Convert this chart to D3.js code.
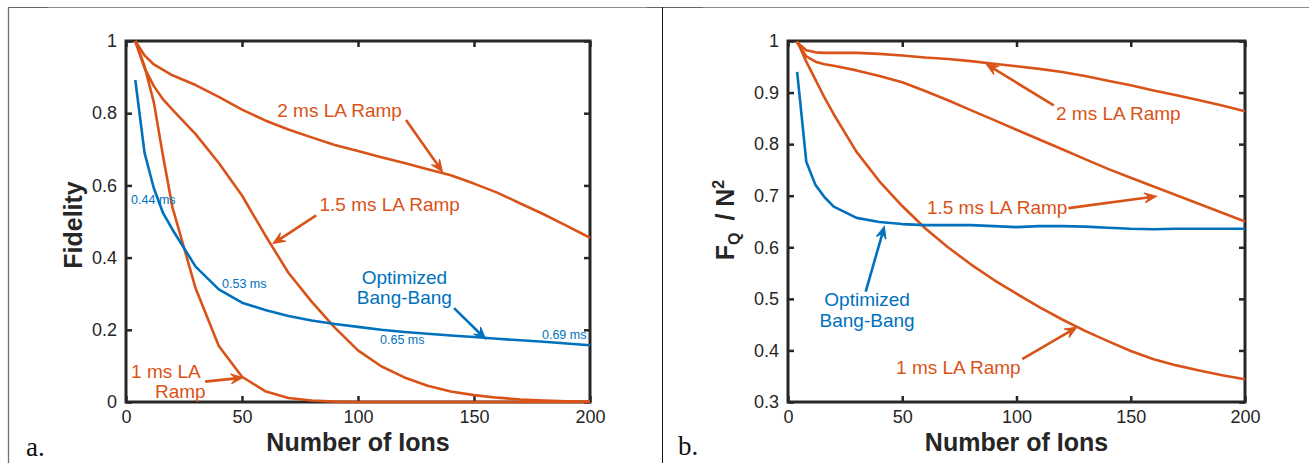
<!DOCTYPE html>
<html>
<head>
<meta charset="utf-8">
<script src="https://cdn.jsdelivr.net/npm/d3@7"></script>
<style>
  html, body { margin: 0; padding: 0; background: #fff; }
  svg { display: block; }
  text { font-family: "Liberation Sans", Arial, Helvetica, sans-serif; }
</style>
</head>
<body>
<svg id="chart" width="1309" height="463"></svg>
<script>
// ---------------- DATA ----------------
const nIons = [4, 8, 12, 16, 20, 30, 40, 50, 60, 70, 80, 90, 100, 110, 120, 130, 140, 150, 160, 170, 180, 190, 200];

// Panel a: Fidelity
const fid2ms  = [1.0, 0.96, 0.935, 0.92, 0.905, 0.878, 0.845, 0.81, 0.78, 0.755, 0.733, 0.712, 0.695, 0.678, 0.662, 0.645, 0.628, 0.605, 0.58, 0.55, 0.52, 0.488, 0.455];
const fid15ms = [1.0, 0.925, 0.875, 0.838, 0.81, 0.742, 0.662, 0.572, 0.462, 0.358, 0.278, 0.206, 0.143, 0.099, 0.068, 0.045, 0.029, 0.019, 0.012, 0.007, 0.004, 0.002, 0.001];
const fid1ms  = [1.0, 0.93, 0.83, 0.68, 0.54, 0.315, 0.155, 0.07, 0.03, 0.011, 0.004, 0.001, 0, 0, 0, 0, 0, 0, 0, 0, 0, 0, 0];
const fidBB   = [0.892, 0.69, 0.592, 0.523, 0.478, 0.375, 0.312, 0.275, 0.255, 0.238, 0.226, 0.216, 0.208, 0.2, 0.194, 0.189, 0.184, 0.18, 0.175, 0.171, 0.167, 0.162, 0.157];

// Panel b: F_Q / N^2
const fq2ms  = [0.997, 0.982, 0.978, 0.977, 0.977, 0.977, 0.975, 0.972, 0.968, 0.965, 0.961, 0.956, 0.951, 0.946, 0.94, 0.932, 0.923, 0.914, 0.904, 0.895, 0.885, 0.875, 0.864];
const fq15ms = [0.997, 0.97, 0.96, 0.955, 0.952, 0.943, 0.932, 0.92, 0.903, 0.885, 0.866, 0.847, 0.828, 0.809, 0.79, 0.771, 0.752, 0.735, 0.718, 0.701, 0.684, 0.667, 0.65];
const fq1ms  = [1.0, 0.96, 0.925, 0.89, 0.858, 0.785, 0.728, 0.68, 0.637, 0.6, 0.567, 0.537, 0.51, 0.484, 0.46, 0.438, 0.418, 0.399, 0.383, 0.371, 0.361, 0.352, 0.344];
const fqBB   = [0.94, 0.766, 0.721, 0.697, 0.679, 0.657, 0.649, 0.645, 0.643, 0.643, 0.643, 0.641, 0.639, 0.641, 0.641, 0.64, 0.638, 0.636, 0.635, 0.636, 0.636, 0.636, 0.636];

// Ticks
const xTicks   = [0, 50, 100, 150, 200];
const fidTicks = [0, 0.2, 0.4, 0.6, 0.8, 1];
const fqTicks  = [0.3, 0.4, 0.5, 0.6, 0.7, 0.8, 0.9, 1];

// Annotations (data units): [text, n, value, anchor, class]
const annA = [
  ["2 ms LA Ramp", 65.2, 0.789, "start", "big", "o"],
  ["1.5 ms LA Ramp", 83.4, 0.529, "start", "big", "o"],
  ["Optimized", 120, 0.327, "middle", "big", "b"],
  ["Bang-Bang", 120, 0.271, "middle", "big", "b"],
  ["1 ms LA", 2.2, 0.066, "start", "big", "o"],
  ["Ramp", 12.5, 0.011, "start", "big", "o"],
  ["0.44 ms", 2.2, 0.548, "start", "small", "b"],
  ["0.53 ms", 41.4, 0.316, "start", "small", "b"],
  ["0.65 ms", 109.5, 0.161, "start", "small", "b"],
  ["0.69 ms", 179.3, 0.175, "start", "small", "b"]
];
// arrows: [n0, v0, n1, v1 (head), colour]
const arrA = [
  [120.7, 0.781, 136.4, 0.638, "o"],
  [82.0, 0.517, 63.4, 0.439, "o"],
  [141.4, 0.260, 155.0, 0.1745, "b"],
  [34.1, 0.0565, 50.4, 0.0676, "o"]
];
const annB = [
  ["2 ms LA Ramp", 117.3, 0.847, "start", "big", "o"],
  ["1.5 ms LA Ramp", 60.8, 0.6655, "start", "big", "o"],
  ["Optimized", 34.6, 0.486, "middle", "big", "b"],
  ["Bang-Bang", 34.6, 0.4454, "middle", "big", "b"],
  ["1 ms LA Ramp", 47.3, 0.354, "start", "big", "o"]
];
const arrB = [
  [116.3, 0.875, 86.8, 0.955, "o"],
  [122.7, 0.676, 161.3, 0.699, "o"],
  [34.0, 0.514, 42.2, 0.6405, "b"],
  [102.5, 0.383, 126.4, 0.445, "o"]
];

// ---------------- STYLE ----------------
const ORANGE = "#D95319";
const BLUE = "#0072BD";
const AXIS = "#262626";
const colourOf = c => c === "o" ? ORANGE : BLUE;

const svg = d3.select("#chart");
svg.append("rect").attr("width", 1309).attr("height", 463).attr("fill", "#fff");

// frame lines (table borders)
svg.append("line").attr("x1", 8).attr("x2", 1309).attr("y1", 7.5).attr("y2", 7.5)
  .attr("stroke", "#8c8c8c").attr("stroke-width", 1);
svg.append("line").attr("x1", 8).attr("x2", 48).attr("y1", 7.5).attr("y2", 7.5)
  .attr("stroke", "#666").attr("stroke-width", 1.2);
svg.append("line").attr("x1", 647).attr("x2", 703).attr("y1", 7.5).attr("y2", 7.5)
  .attr("stroke", "#666").attr("stroke-width", 1.2);
svg.append("line").attr("x1", 8.5).attr("x2", 8.5).attr("y1", 7).attr("y2", 463)
  .attr("stroke", "#707070").attr("stroke-width", 1.3);
svg.append("line").attr("x1", 662.5).attr("x2", 662.5).attr("y1", 7).attr("y2", 463)
  .attr("stroke", "#111").attr("stroke-width", 1);

function fmt(d) { return String(+d.toFixed(1)); }

function drawPanel(cfg) {
  const x = d3.scaleLinear().domain([0, 200]).range([cfg.left, cfg.right]);
  const y = d3.scaleLinear().domain(cfg.yDomain).range([cfg.bottom, cfg.top]);
  const g = svg.append("g");

  const axStyle = sel => {
    sel.select(".domain").remove();
    sel.selectAll(".tick line").attr("stroke", AXIS).attr("stroke-width", 2.5);
    sel.selectAll(".tick text").attr("fill", AXIS).style("font-size", "18px")
      .style("font-family", "'Liberation Sans', Arial, Helvetica, sans-serif");
  };

  g.append("g").attr("transform", `translate(0,${cfg.bottom})`)
    .call(d3.axisBottom(x).tickValues(xTicks).tickFormat(fmt).tickSizeInner(-6).tickSizeOuter(0).tickPadding(8))
    .call(axStyle);
  g.append("g").attr("transform", `translate(0,${cfg.top})`)
    .call(d3.axisTop(x).tickValues(xTicks).tickFormat("").tickSizeInner(-6).tickSizeOuter(0))
    .call(axStyle);
  g.append("g").attr("transform", `translate(${cfg.left},0)`)
    .call(d3.axisLeft(y).tickValues(cfg.yTicks).tickFormat(fmt).tickSizeInner(-6).tickSizeOuter(0).tickPadding(9))
    .call(axStyle);
  g.append("g").attr("transform", `translate(${cfg.right},0)`)
    .call(d3.axisRight(y).tickValues(cfg.yTicks).tickFormat("").tickSizeInner(-6).tickSizeOuter(0))
    .call(axStyle);

  // axes box
  g.append("rect").attr("x", cfg.left).attr("y", cfg.top)
    .attr("width", cfg.right - cfg.left).attr("height", cfg.bottom - cfg.top)
    .attr("fill", "none").attr("stroke", AXIS).attr("stroke-width", 3);

  // series
  const line = d3.line().x(d => x(d[0])).y(d => y(d[1]));
  cfg.series.forEach(s => {
    g.append("path").datum(nIons.map((n, i) => [n, s.values[i]]))
      .attr("d", line).attr("fill", "none").attr("stroke", s.colour)
      .attr("stroke-width", 2.6).attr("stroke-linejoin", "round").attr("stroke-linecap", "butt");
  });

  // annotation text
  cfg.ann.forEach(a => {
    g.append("text").attr("x", x(a[1])).attr("y", y(a[2]))
      .attr("text-anchor", a[3]).attr("fill", colourOf(a[5]))
      .style("font-size", a[4] === "big" ? "19px" : "12.5px")
      .text(a[0]);
  });

  // arrows
  cfg.arrows.forEach(a => {
    const x0 = x(a[0]), y0 = y(a[1]), x1 = x(a[2]), y1 = y(a[3]);
    const col = colourOf(a[4]);
    const ang = Math.atan2(y1 - y0, x1 - x0);
    const L = 12, W = 10;
    const len = Math.hypot(x1 - x0, y1 - y0);
    const ag = g.append("g").attr("transform", `translate(${x1},${y1}) rotate(${ang * 180 / Math.PI})`);
    ag.append("line").attr("x1", -len).attr("y1", 0).attr("x2", -L * 0.6).attr("y2", 0)
      .attr("stroke", col).attr("stroke-width", 2.6);
    ag.append("path").attr("d", `M0,0 L${-L},${-W / 2} L${-L * 0.6},0 L${-L},${W / 2} Z`)
      .attr("fill", col).attr("stroke", col).attr("stroke-width", 1).attr("stroke-linejoin", "miter");
  });

  // axis labels
  g.append("text").attr("x", (cfg.left + cfg.right) / 2).attr("y", 451)
    .attr("text-anchor", "middle").attr("fill", AXIS)
    .style("font-size", "25px").style("font-weight", "bold").text("Number of Ions");

  return { x, y, g };
}

const pA = drawPanel({
  left: 126, right: 590, top: 41, bottom: 402, yDomain: [0, 1], yTicks: fidTicks,
  series: [
    { values: fid2ms, colour: ORANGE },
    { values: fid15ms, colour: ORANGE },
    { values: fid1ms, colour: ORANGE },
    { values: fidBB, colour: BLUE }
  ],
  ann: annA, arrows: arrA
});
const pB = drawPanel({
  left: 788, right: 1245, top: 41, bottom: 402, yDomain: [0.3, 1], yTicks: fqTicks,
  series: [
    { values: fq2ms, colour: ORANGE },
    { values: fq15ms, colour: ORANGE },
    { values: fq1ms, colour: ORANGE },
    { values: fqBB, colour: BLUE }
  ],
  ann: annB, arrows: arrB
});

// y axis labels
svg.append("text").attr("transform", "translate(82,225) rotate(-90)")
  .attr("text-anchor", "middle").attr("fill", AXIS)
  .style("font-size", "25px").style("font-weight", "bold").text("Fidelity");

const yl = svg.append("text").attr("transform", "translate(734,220) rotate(-90)")
  .attr("text-anchor", "middle").attr("fill", AXIS)
  .style("font-size", "25px").style("font-weight", "bold");
yl.append("tspan").text("F");
yl.append("tspan").attr("dy", 6).style("font-size", "16px").text("Q");
yl.append("tspan").attr("dy", -6).text("\u2009 / N");
yl.append("tspan").attr("dy", -10).style("font-size", "16px").text("2");

// panel letters
svg.append("text").attr("x", 26).attr("y", 456)
  .style("font-family", "'Liberation Serif', 'DejaVu Serif', serif").style("font-size", "27px")
  .attr("fill", "#111").text("a.");
svg.append("text").attr("x", 678).attr("y", 455)
  .style("font-family", "'Liberation Serif', 'DejaVu Serif', serif").style("font-size", "27px")
  .attr("fill", "#111").text("b.");
</script>
</body>
</html>
